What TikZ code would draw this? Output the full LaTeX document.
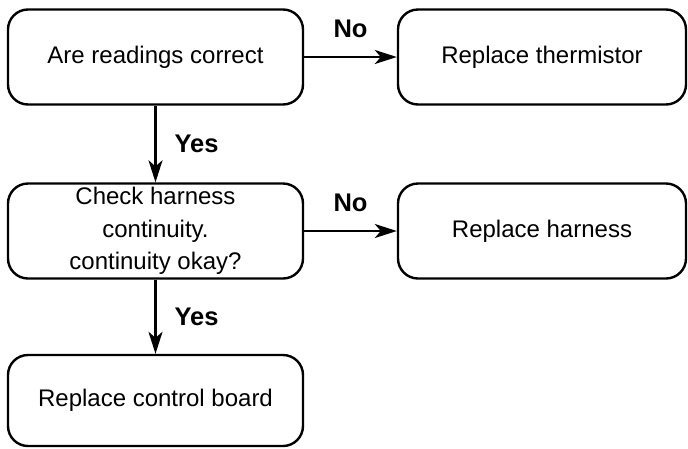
\documentclass[tikz,border=0pt]{standalone}
\usepackage{fontspec}
\setmainfont{Liberation Sans}
\usetikzlibrary{arrows.meta}
\begin{document}
\begin{tikzpicture}[x=1pt,y=-1pt,>={Stealth[length=22pt,width=14pt,inset=6pt]},
  box/.style={draw,line width=2.4pt,rounded corners=20pt,minimum width=295pt,minimum height=95pt,
    align=center,inner sep=0pt,font=\fontsize{24}{32.5}\selectfont},
  lab/.style={inner sep=0pt,font=\bfseries\fontsize{25.5}{28}\selectfont}]
\useasboundingbox (0,0) rectangle (688,448);
\node[box](read) at (155.5,57){Are readings correct};
\node[box,minimum width=288pt](therm) at (542,57){Replace thermistor};
\node[box](harn) at (155.5,231){Check harness\\continuity.\\continuity okay?};
\node[box,minimum width=288pt](rharn) at (542,231){Replace harness};
\node[box,minimum height=91pt](board) at (155.5,400.5){Replace control board};
\draw[->,line width=2.2pt](read)--node[lab,above=18pt]{No}(therm);
\draw[->,line width=2.2pt](harn)--node[lab,above=18pt]{No}(rharn);
\draw[->,line width=2.2pt](read)--node[lab,right=18pt]{Yes}(harn);
\draw[->,line width=2.2pt](harn)--node[lab,right=18pt]{Yes}(board);
\end{tikzpicture}
\end{document}
